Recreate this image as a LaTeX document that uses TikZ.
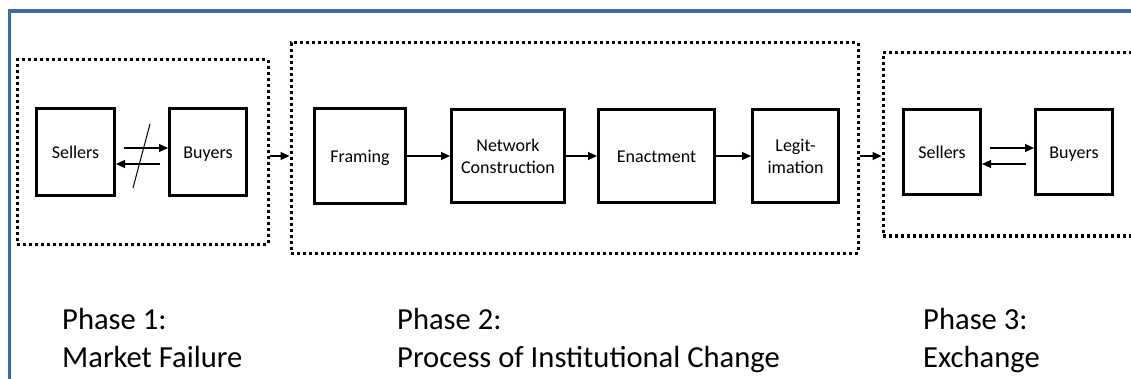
\documentclass[tikz,border=0pt]{standalone}
\usepackage{fontspec}
\setmainfont{Carlito}
\usetikzlibrary{arrows.meta}
\definecolor{framecol}{RGB}{66,104,160}
\tikzset{
  box/.style={draw, line width=3pt, inner sep=0pt, align=center, font=\fontsize{18}{22}\selectfont},
  oneline/.style={text height=16pt, text depth=2pt},
  phasebox/.style={draw, line width=3pt, dash pattern=on 3pt off 3pt, inner sep=0pt},
  arr/.style={line width=1.2pt, -{Triangle[length=9pt,width=8pt]}},
  phaselabel/.style={anchor=base west, inner sep=0pt, font=\fontsize{30.6}{38}\selectfont},
}
\begin{document}
\begin{tikzpicture}[x=1pt,y=-1pt]
\useasboundingbox (0,0) rectangle (1131,379);
\clip (0,0) rectangle (1131,379);
% outer frame
\draw[framecol, line width=3.5pt] (9.5,390) -- (9.5,11) -- (1140,11);
% phase boxes
\node[phasebox, minimum width=251pt, minimum height=184pt] (P1) at (142.5,152) {};
\node[phasebox, minimum width=567pt, minimum height=210pt] (P2) at (574.5,148) {};
\node[phasebox, minimum width=300pt, minimum height=183pt] (P3) at (1033,144.5) {};
% phase 1
\node[box, oneline, minimum width=78pt, minimum height=87pt] (S1) at (75.5,152) {Sellers};
\node[box, oneline, minimum width=77pt, minimum height=87pt] (B1) at (208,152) {Buyers};
% phase 2
\node[box, oneline, minimum width=91pt, minimum height=95pt] (F) at (360,156) {Framing};
\node[box, minimum width=113pt, minimum height=93pt] (N) at (508,156) {Network\\Construction};
\node[box, oneline, minimum width=116pt, minimum height=93pt] (E) at (656.5,156) {Enactment};
\node[box, minimum width=86pt, minimum height=93pt] (L) at (795.5,156) {Legit-\\imation};
% phase 3
\node[box, oneline, minimum width=77pt, minimum height=85pt] (S3) at (942,152) {Sellers};
\node[box, oneline, minimum width=77pt, minimum height=85pt] (B3) at (1074,152) {Buyers};
% phase 1 arrows
\draw[arr] ([shift={(8,-4)}]S1.east) -- ([shift={(0,-4)}]B1.west);
\draw[arr] ([shift={(-8,12)}]B1.west) -- ([shift={(0,12)}]S1.east);
\coordinate (slashA) at (150,124);
\coordinate (slashB) at (133,188);
\draw[line width=1pt] (slashA) -- (slashB);
% phase 3 arrows
\draw[arr] ([shift={(8,-4)}]S3.east) -- ([shift={(0,-4)}]B3.west);
\draw[arr] ([shift={(-8,12)}]B3.west) -- ([shift={(0,12)}]S3.east);
% phase 2 chain
\draw[arr] (F) -- (N);
\draw[arr] (N) -- (E);
\draw[arr] (E) -- (L);
% between phases
\draw[arr] (P1.east |- F) -- (P2.west |- F);
\draw[arr] (P2.east |- F) -- (P3.west |- F);
% labels
\node[phaselabel] (l1a) at (62,329) {Phase 1:};
\node[phaselabel] (l1b) at (62,367) {Market Failure};
\node[phaselabel] (l2a) at (397,329) {Phase 2:};
\node[phaselabel] (l2b) at (397,367) {Process of Institutional Change};
\node[phaselabel] (l3a) at (923,329) {Phase 3:};
\node[phaselabel] (l3b) at (923,367) {Exchange};
\end{tikzpicture}
\end{document}
